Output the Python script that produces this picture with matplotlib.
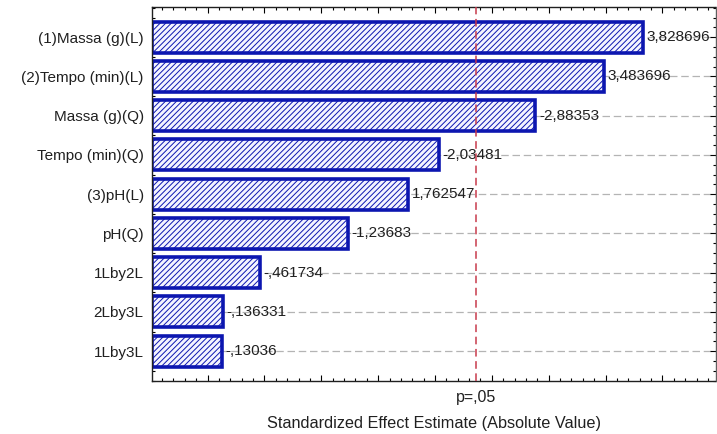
import matplotlib
matplotlib.use("Agg")
import matplotlib.pyplot as plt
import matplotlib.transforms as mtransforms
from matplotlib.ticker import MultipleLocator

# effect estimates (signed), in Pareto order
effects = ["(1)Massa (g)(L)", "(2)Tempo (min)(L)", "Massa (g)(Q)",
           "Tempo (min)(Q)", "(3)pH(L)", "pH(Q)", "1Lby2L", "2Lby3L", "1Lby3L"]
estimates = [3.828696, 3.483696, -2.88353, -2.03481, 1.762547,
             -1.23683, -0.461734, -0.136331, -0.13036]
t_crit = 2.364624  # p = .05
p_label = "p=,05"
x_label = "Standardized Effect Estimate (Absolute Value)"

BLUE = "#0c16b0"
RED = "#c83a4c"
GRID = "#b4b4b4"

plt.rcParams["font.family"] = ["Liberation Sans", "DejaVu Sans"]
plt.rcParams["hatch.linewidth"] = 0.7
plt.rcParams["hatch.color"] = BLUE


def stat_fmt(v):
    # Statistica style: no leading zero, comma as decimal mark
    s = f"{v:.7g}"
    s = s.replace("-0.", "-.")
    if s.startswith("0."):
        s = s[1:]
    return s.replace(".", ",")


def main():
    fig = plt.figure(figsize=(7.17, 4.34), dpi=100)
    ax = fig.add_axes([152 / 717, 1 - 381 / 434, 563.5 / 717, 374 / 434])

    xlo, xhi = -0.488, 4.466
    ys = list(range(len(effects)))
    mags = [abs(v) for v in estimates]

    # horizontal grid at each effect
    for y in ys:
        ax.plot([xlo, xhi], [y, y], color=GRID, lw=0.9, ls=(0, (6, 3)), zorder=1)

    ax.barh(ys, [m - xlo for m in mags], left=xlo, height=0.79,
            color="#f4f4ff", edgecolor=BLUE, linewidth=2.6, hatch="//////", zorder=2)

    for y, m, v in zip(ys, mags, estimates):
        ax.text(m + 0.03, y, stat_fmt(v), va="center", ha="left",
                fontsize=11, color="#202020", zorder=3)

    ax.axvline(t_crit, color=RED, lw=1.1, ls=(0, (5, 3)), zorder=4)

    ax.set_xlim(xlo, xhi)
    ax.set_ylim(len(effects) - 1 + 0.76, -0.77)

    ax.set_yticks(ys)
    ax.set_yticklabels(effects, fontsize=11, color="#202020")
    ax.yaxis.set_minor_locator(MultipleLocator(0.25))
    ax.xaxis.set_major_locator(MultipleLocator(0.5))
    ax.xaxis.set_minor_locator(MultipleLocator(0.1))
    ax.tick_params(axis="x", which="both", direction="in", top=True,
                   bottom=True, labelbottom=False, width=0.8)
    ax.tick_params(axis="x", which="major", length=4)
    ax.tick_params(axis="x", which="minor", length=2)
    ax.tick_params(axis="y", which="both", direction="in", right=True, width=0.8)
    ax.tick_params(axis="y", which="major", left=False, length=4, pad=6)
    ax.tick_params(axis="y", which="minor", length=2)
    for sp in ax.spines.values():
        sp.set_linewidth(1.0)
        sp.set_color("#202020")
    ax.spines["right"].set_color("#606060")

    trans = mtransforms.blended_transform_factory(ax.transData, ax.transAxes)
    ax.text(t_crit, -0.043, p_label, transform=trans, ha="center", va="center",
            fontsize=11.5, color="#202020")
    ax.text(0.5, -0.113, x_label, transform=ax.transAxes, ha="center",
            va="center", fontsize=11.7, color="#202020")

    fig.savefig("out.png", dpi=100)


if __name__ == "__main__":
    main()
